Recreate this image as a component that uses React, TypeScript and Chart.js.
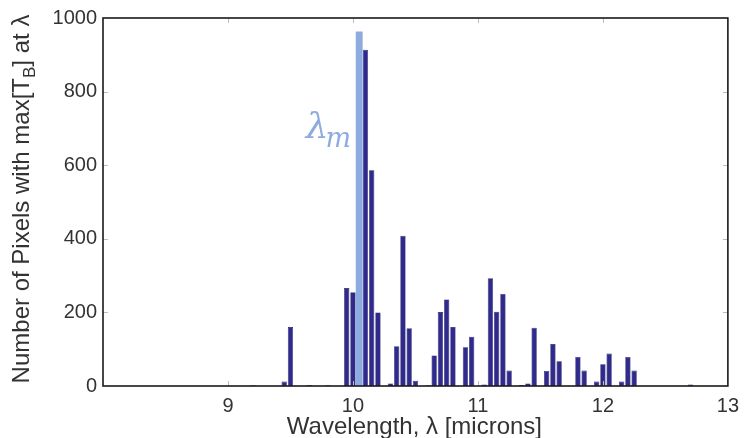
import { useEffect, useRef } from "react";
import { Chart, registerables } from "chart.js";

Chart.register(...registerables);

// Histogram of the wavelength of maximum brightness temperature (bin width 0.05 micron)
const wavelengths = [
  9.2, 9.45, 9.5, 9.65, 9.8, 9.95, 10.0, 10.1, 10.15, 10.2, 10.3, 10.35, 10.4, 10.45, 10.5,
  10.6, 10.65, 10.7, 10.75, 10.8, 10.9, 10.95, 11.05, 11.1, 11.15, 11.2, 11.25, 11.35, 11.4,
  11.45, 11.55, 11.6, 11.65, 11.8, 11.85, 11.95, 12.0, 12.05, 12.15, 12.2, 12.25, 12.7,
];
const pixelCounts = [
  2, 12, 160, 3, 2, 266, 255, 914, 586, 200, 7, 108, 408, 157, 14,
  2, 83, 201, 235, 160, 105, 134, 4, 293, 202, 250, 42, 3, 7,
  158, 41, 114, 67, 79, 42, 12, 59, 88, 12, 79, 42, 4,
];
const peakWavelength = [10.05];
const peakCount = [963];
const peakLabel = "λ";
const peakLabelSub = "m";

const xTickValues = [9, 10, 11, 12, 13];
const yTickValues = [0, 200, 400, 600, 800, 1000];

const xTitle = "Wavelength, λ [microns]";
const yTitleMain = "Number of Pixels with max[T";
const yTitleSub = "B";
const yTitleEnd = "] at λ";

const DARK = "#2f2a8c";
const LIGHT = "#8eabdf";
const TEXT = "#333333";
const FONT = "'Liberation Sans', Arial, sans-serif";

const decorPlugin = {
  id: "decor",
  afterDraw(chart: any) {
    const { ctx, chartArea, scales } = chart;
    const { left, right, top, bottom } = chartArea;
    const xs = scales.x;
    const ys = scales.y;
    ctx.save();
    // inner tick marks
    ctx.strokeStyle = "#bdbdbd";
    ctx.lineWidth = 1;
    const tl = 5;
    xTickValues.forEach((v) => {
      const px = Math.round(xs.getPixelForValue(v)) + 0.5;
      if (px <= left + 1 || px >= right - 1) return;
      ctx.beginPath();
      ctx.moveTo(px, bottom);
      ctx.lineTo(px, bottom - tl);
      ctx.moveTo(px, top);
      ctx.lineTo(px, top + tl);
      ctx.stroke();
    });
    yTickValues.forEach((v) => {
      const py = Math.round(ys.getPixelForValue(v)) + 0.5;
      if (py <= top + 1 || py >= bottom - 1) return;
      ctx.beginPath();
      ctx.moveTo(left, py);
      ctx.lineTo(left + tl, py);
      ctx.moveTo(right, py);
      ctx.lineTo(right - tl, py);
      ctx.stroke();
    });
    // frame
    ctx.strokeStyle = "#1a1a1a";
    ctx.lineWidth = 1.6;
    ctx.strokeRect(left, top, right - left, bottom - top);

    // peak label
    const lx = xs.getPixelForValue(peakWavelength[0]) - 8;
    const ly = ys.getPixelForValue(peakCount[0] * 0.7);
    ctx.fillStyle = LIGHT;
    ctx.textBaseline = "alphabetic";
    ctx.font = "italic 27px 'DejaVu Serif', serif";
    const mw = ctx.measureText(peakLabelSub).width;
    ctx.textAlign = "right";
    ctx.fillText(peakLabelSub, lx, ly + 9);
    ctx.font = "italic 36px 'DejaVu Serif', serif";
    ctx.fillText(peakLabel, lx - mw + 3, ly);

    // x title
    ctx.fillStyle = TEXT;
    ctx.font = `24px ${FONT}`;
    ctx.textAlign = "center";
    ctx.fillText(xTitle, (left + right) / 2 - 1, 434);

    // y title (rotated, with subscript)
    ctx.translate(22, 199);
    ctx.rotate(-Math.PI / 2);
    ctx.textAlign = "left";
    ctx.textBaseline = "middle";
    const mainFont = `24px ${FONT}`;
    const subFont = `17px ${FONT}`;
    ctx.font = mainFont;
    const w1 = ctx.measureText(yTitleMain).width;
    const w3 = ctx.measureText(yTitleEnd).width;
    ctx.font = subFont;
    const w2 = ctx.measureText(yTitleSub).width;
    const total = w1 + w2 + w3;
    let x0 = -total / 2;
    ctx.font = mainFont;
    ctx.fillText(yTitleMain, x0, 0);
    x0 += w1;
    ctx.font = subFont;
    ctx.fillText(yTitleSub, x0, 8);
    x0 += w2;
    ctx.font = mainFont;
    ctx.fillText(yTitleEnd, x0, 0);
    ctx.restore();
  },
};

export default function App() {
  const ref = useRef<HTMLCanvasElement | null>(null);
  useEffect(() => {
    document.body.style.margin = "0";
    const canvas = ref.current;
    if (!canvas) return;
    const chart = new Chart(canvas, {
      type: "bar",
      data: {
        datasets: [
          {
            label: "peak",
            data: peakWavelength.map((x, i) => ({ x, y: peakCount[i] })),
            backgroundColor: LIGHT,
            grouped: false,
            barPercentage: 1.1,
            categoryPercentage: 1,
            order: 0,
          } as any,
          {
            label: "counts",
            data: wavelengths.map((x, i) => ({ x, y: pixelCounts[i] })),
            backgroundColor: DARK,
            borderColor: "#201c62",
            borderWidth: 0.6,
            grouped: false,
            barPercentage: 0.85,
            categoryPercentage: 1,
            order: 1,
          } as any,
        ],
      },
      options: {
        responsive: false,
        animation: false,
        layout: { padding: { top: 16, right: 14, left: 0, bottom: 0 } },
        plugins: { legend: { display: false }, tooltip: { enabled: false } },
        scales: {
          x: {
            type: "linear",
            min: 8,
            max: 13,
            offset: false,
            grid: { display: false, drawTicks: false },
            border: { display: false },
            ticks: {
              padding: 8,
              color: TEXT,
              font: { size: 20, family: FONT },
              callback: (v: any) => String(v),
            },
            afterBuildTicks: (s: any) => {
              s.ticks = xTickValues.map((v) => ({ value: v }));
            },
            afterFit: (s: any) => {
              s.height = 52;
            },
          },
          y: {
            min: 0,
            max: 1000,
            grid: { display: false, drawTicks: false },
            border: { display: false },
            ticks: {
              padding: 6,
              color: TEXT,
              font: { size: 20, family: FONT },
              callback: (v: any) => String(v),
            },
            afterBuildTicks: (s: any) => {
              s.ticks = yTickValues.map((v) => ({ value: v }));
            },
            afterFit: (s: any) => {
              s.width = 103;
            },
          },
        },
      } as any,
      plugins: [decorPlugin],
    });
    return () => chart.destroy();
  }, []);
  return <canvas ref={ref} width={747} height={438} style={{ display: "block" }} />;
}
